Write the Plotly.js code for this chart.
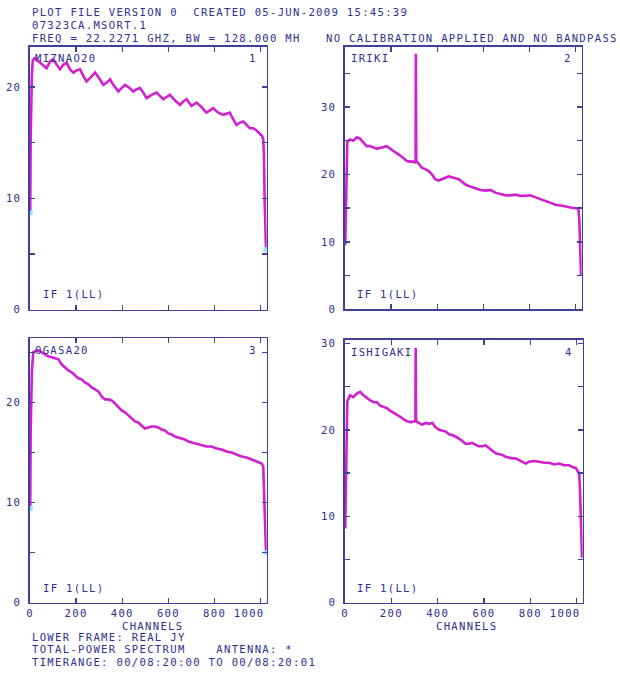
<!DOCTYPE html>
<html><head><meta charset="utf-8">
<script src="https://cdn.plot.ly/plotly-3.0.1.min.js"></script>
<style>
html,body{margin:0;padding:0;background:#fff;overflow:hidden}
text{letter-spacing:1.3px}
</style>
</head><body><div id="chart" style="width:620px;height:680px"></div>
<script>
// ---------------- DATA ----------------
const xTickVals = [0, 200, 400, 600, 800, 1000];
const xTickText = ['0', '200', '400', '600', '800', '1000\u00a0\u00a0\u00a0'];

const names = ['MIZNAO20', 'IRIKI', 'OGASA20', 'ISHIGAKI'];
const panelNums = ['1', '2', '3', '4'];
const ifLabel = 'IF 1(LL)';

// Panel 1 : MIZNAO20
const ch1 = [1,3,8,12,20,29,43,58,72,87,101,116,130,144,159,173,188,202,217,231,245,260,282,296,318,332,347,361,383,397,412,433,448,462,477,491,505,527,549,563,578,592,606,628,650,664,679,700,722,744,765,780,794,816,838,852,866,881,895,910,924,939,953,968,982,996,1006,1011,1014,1017,1020,1023];
const val1 = [8.7,15.5,21.0,22.4,22.6,22.5,22.2,21.9,21.7,22.3,22.5,22.0,21.6,22.0,22.2,21.6,21.3,21.5,21.6,21.0,20.5,20.8,21.3,20.9,20.2,20.4,20.7,20.2,19.6,19.9,20.2,19.9,19.6,19.8,19.9,19.5,19.0,19.3,19.5,19.2,18.9,19.1,19.3,18.8,18.4,18.7,18.9,18.3,18.6,18.2,17.7,17.9,18.1,17.7,17.5,17.6,17.7,17.1,16.6,16.8,16.9,16.6,16.3,16.3,16.1,15.8,15.6,15.3,14.0,9.9,6.0,5.4];

// Panel 2 : IRIKI
const ch2 = [1,3,6,10,15,22,36,51,65,80,94,109,123,138,159,181,196,210,225,239,254,268,283,297,306,307,308,309,319,333,348,362,377,391,406,420,435,449,471,493,507,522,543,565,587,609,630,652,674,696,717,739,761,783,804,826,848,870,891,913,935,957,978,1000,1012,1016,1020,1023];
const val2 = [9.5,12.5,20.5,24.8,25.0,25.2,25.0,25.5,25.3,24.8,24.2,24.2,24.0,23.8,24.0,24.2,23.8,23.5,23.2,22.8,22.4,22.0,21.9,21.9,21.7,37.9,31.0,22.0,21.6,21.0,20.8,20.5,20.0,19.3,19.1,19.3,19.6,19.7,19.5,19.3,18.9,18.5,18.2,17.9,17.7,17.6,17.7,17.3,17.1,16.9,16.9,17.0,16.8,16.8,16.9,16.6,16.3,16.0,15.8,15.5,15.4,15.2,15.1,15.0,14.9,13.0,9.0,5.0];

// Panel 3 : OGASA20
const ch3 = [1,3,8,14,22,36,51,65,79,94,108,123,137,152,166,181,195,209,224,238,253,267,282,296,311,325,339,354,368,383,397,412,426,440,455,469,484,498,513,527,542,556,570,585,599,614,628,643,657,671,686,700,715,729,744,765,787,809,830,852,874,895,917,939,960,982,1004,1011,1015,1018,1021,1023];
const val3 = [9.4,17.2,23.0,25.0,25.1,25.2,25.0,24.8,24.6,24.5,24.4,24.3,23.8,23.5,23.2,23.0,22.7,22.4,22.3,22.0,21.8,21.5,21.3,21.1,20.6,20.3,20.3,20.2,19.9,19.5,19.2,19.0,18.7,18.4,18.1,18.0,17.7,17.4,17.5,17.6,17.6,17.5,17.3,17.2,16.9,16.8,16.6,16.5,16.4,16.3,16.1,16.0,15.9,15.8,15.7,15.6,15.6,15.4,15.3,15.1,15.0,14.8,14.6,14.5,14.3,14.1,13.9,13.6,10.5,8.5,5.5,5.0];

// Panel 4 : ISHIGAKI
const ch4 = [1,3,6,10,22,36,51,65,80,94,109,123,138,152,167,181,196,210,225,239,254,268,283,297,304,305,306,307,319,333,348,362,377,391,406,420,435,449,463,478,492,506,520,535,549,563,578,592,607,621,635,650,664,679,693,708,722,736,751,765,780,794,816,838,859,881,903,924,946,968,982,996,1004,1011,1015,1021,1023];
const val4 = [8.6,12.0,19.0,23.3,24.0,23.8,24.2,24.4,24.0,23.7,23.4,23.2,23.2,22.8,22.6,22.5,22.2,22.0,21.7,21.5,21.2,21.0,20.9,21.0,21.0,29.5,25.0,21.0,20.8,20.6,20.8,20.7,20.8,20.3,20.0,19.9,19.8,19.5,19.4,19.2,19.0,18.7,18.4,18.4,18.5,18.3,18.1,18.1,18.2,17.9,17.6,17.3,17.2,17.1,16.9,16.8,16.7,16.7,16.5,16.3,16.1,16.3,16.4,16.3,16.2,16.2,16.0,16.1,15.9,15.9,15.7,15.6,15.3,14.9,12.5,8.5,5.2];

const yTicks1 = [0,5,10,15,20];          const yText1 = ['0','','10','','20'];
const yTicks2 = [0,5,10,15,20,25,30,35]; const yText2 = ['0','','10','','20','','30',''];
const yTicks3 = [0,5,10,15,20,25];       const yText3 = ['0','','10','','20',''];
const yTicks4 = [0,5,10,15,20,25,30];    const yText4 = ['0','','10','','20','','30'];

const header1 = 'PLOT FILE VERSION 0  CREATED 05-JUN-2009 15:45:39';
const header2 = '07323CA.MSORT.1';
const header3a = 'FREQ = 22.2271 GHZ, BW = 128.000 MH';
const header3b = 'NO CALIBRATION APPLIED AND NO BANDPASS';
const footer1 = 'LOWER FRAME: REAL JY';
const footer2 = 'TOTAL-POWER SPECTRUM    ANTENNA: *';
const footer3 = 'TIMERANGE: 00/08:20:00 TO 00/08:20:01';
const xTitle = 'CHANNELS';

// ---------------- STYLE ----------------
const W = 620, H = 680;
const FRAME = '#40409a';
const TEXT = '#30308e';
const CURVE = '#d020d0';
const CYAN = '#8fe6ee';
const FONT = '"DejaVu Sans Mono", "Liberation Mono", monospace';
const FS = 10.6;

const nb = s => s.replace(/ /g, '\u00a0');
function dx(a, b) { return [a / W, b / W]; }
function dy(top, bottom) { return [1 - bottom / H, 1 - top / H]; }

const boxes = [
  {x: dx(30, 266.7), y: dy(47, 309.5)},
  {x: dx(345, 581.7), y: dy(47, 309.3)},
  {x: dx(30, 266.7), y: dy(338.3, 602.7)},
  {x: dx(345, 582.7), y: dy(340, 602.7)}
];
const yRanges = [[0, 23.6], [0, 38.9], [0, 26.4], [0, 30.4]];
const yTicks = [yTicks1, yTicks2, yTicks3, yTicks4];
const yTexts = [yText1, yText2, yText3, yText4];
const chs = [ch1, ch2, ch3, ch4];
const vals = [val1, val2, val3, val4];

const traces = [];
const layout = {
  width: W, height: H,
  margin: {l: 0, r: 0, t: 0, b: 0},
  paper_bgcolor: '#ffffff', plot_bgcolor: '#ffffff',
  showlegend: false,
  font: {family: FONT, size: FS, color: TEXT},
  annotations: []
};

for (let i = 0; i < 4; i++) {
  const s = i === 0 ? '' : String(i + 1);
  traces.push({
    x: chs[i], y: vals[i], type: 'scatter', mode: 'lines',
    line: {color: CURVE, width: 2.6},
    xaxis: 'x' + s, yaxis: 'y' + s, hoverinfo: 'skip'
  });
  if (i === 0 || i === 2) {
    const c = chs[i], v = vals[i];
    traces.push({
      x: [c[0], c[c.length - 1]], y: [v[0], v[v.length - 1]],
      type: 'scatter', mode: 'markers',
      marker: {color: CYAN, size: 5, symbol: 'square'},
      xaxis: 'x' + s, yaxis: 'y' + s, hoverinfo: 'skip'
    });
  }
  const common = {
    showline: true, linecolor: FRAME, linewidth: 1.6, mirror: 'allticks',
    ticks: 'inside', ticklen: 5, tickwidth: 1.5, tickcolor: FRAME,
    showgrid: false, zeroline: false, fixedrange: true,
    tickfont: {family: FONT, size: FS, color: TEXT}
  };
  layout['xaxis' + s] = Object.assign({}, common, {
    domain: boxes[i].x, range: [0, 1026], anchor: 'y' + s,
    tickmode: 'array', tickvals: xTickVals, ticktext: xTickText,
    showticklabels: i >= 2
  });
  layout['yaxis' + s] = Object.assign({}, common, {
    domain: boxes[i].y, range: yRanges[i], anchor: 'x' + s,
    tickmode: 'array', tickvals: yTicks[i], ticktext: yTexts[i],
    ticklabelstandoff: 5
  });
}

function ann(text, px, py, xanchor) {
  layout.annotations.push({
    text: nb(text), xref: 'paper', yref: 'paper',
    x: px / W, y: 1 - py / H, xanchor: xanchor || 'left', yanchor: 'middle',
    showarrow: false, font: {family: FONT, size: FS, color: TEXT}
  });
}

ann(header1, 30, 12);
ann(header2, 30, 25);
ann(header3a, 30, 38);
ann(header3b, 324, 38);

ann(names[0], 33, 57.5); ann(panelNums[0], 259, 57.5, 'right'); ann(ifLabel, 41, 294);
ann(names[1], 349, 58);  ann(panelNums[1], 574, 58, 'right');   ann(ifLabel, 355, 294);
ann(names[2], 33, 350);  ann(panelNums[2], 259, 350.5, 'right'); ann(ifLabel, 41, 588);
ann(names[3], 349, 351.5); ann(panelNums[3], 575, 351.5, 'right'); ann(ifLabel, 355, 588);

ann(xTitle, 152, 626, 'center');
ann(xTitle, 467, 626, 'center');
ann(footer1, 30, 637);
ann(footer2, 30, 649.3);
ann(footer3, 30, 661.6);

Plotly.newPlot('chart', traces, layout, {staticPlot: true, displayModeBar: false});
</script>
</body></html>
